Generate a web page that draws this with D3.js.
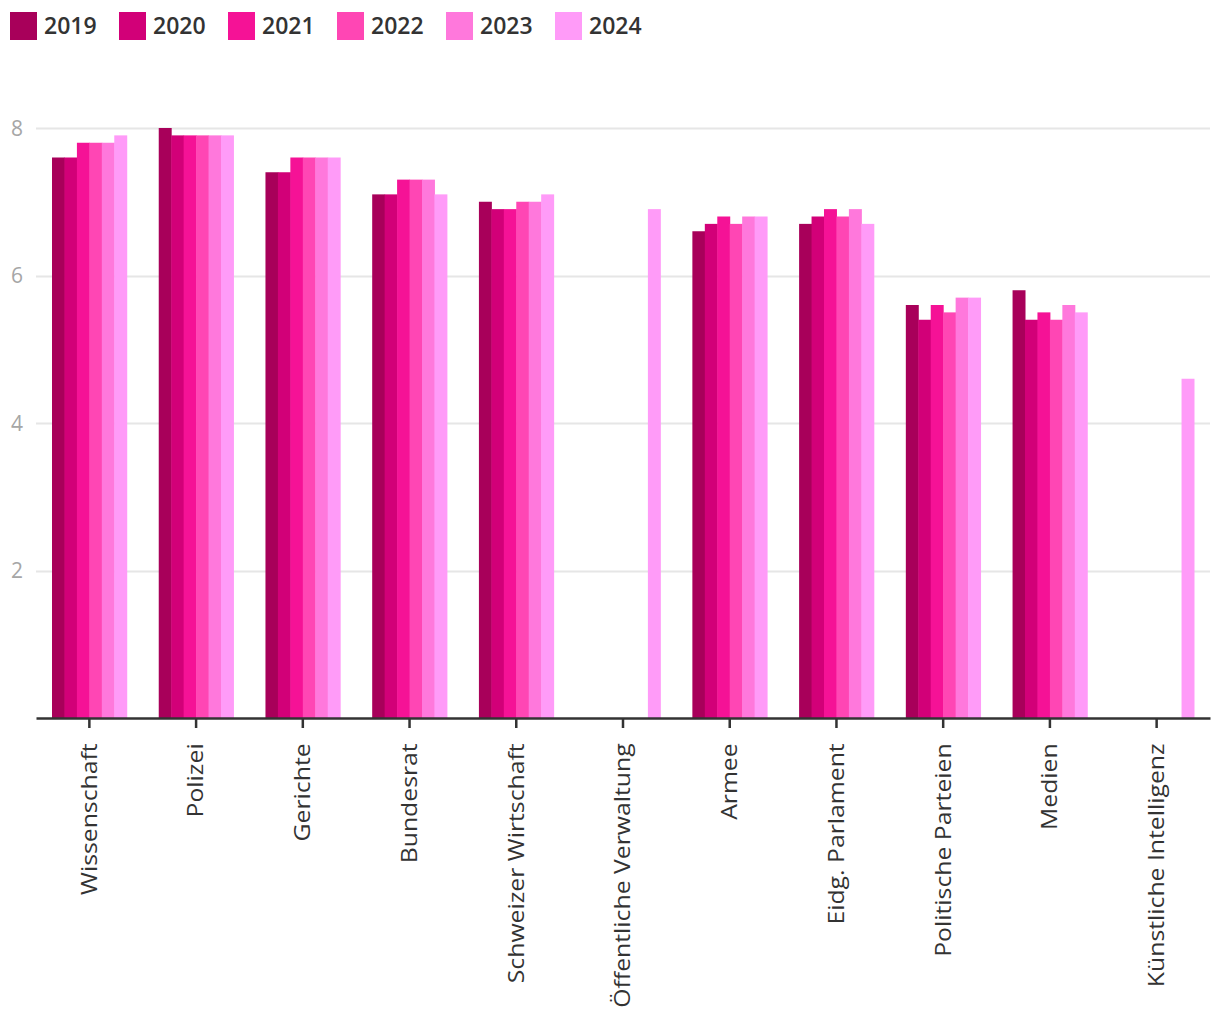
<!DOCTYPE html>
<html lang="de">
<head>
<meta charset="utf-8">
<title>Vertrauen</title>
<script src="https://d3js.org/d3.v7.min.js"></script>
<style>
  body { margin: 0; background: #fff; }
  text { font-family: "Open Sans", "Noto Sans", sans-serif; }
</style>
</head>
<body>
<script>
// categories and yearly values (0-10 scale)
var categories = ["Wissenschaft", "Polizei", "Gerichte", "Bundesrat", "Schweizer Wirtschaft",
  "Öffentliche Verwaltung", "Armee", "Eidg. Parlament", "Politische Parteien", "Medien",
  "Künstliche Intelligenz"];
var years = ["2019", "2020", "2021", "2022", "2023", "2024"];
var v2019 = [7.6, 8.0, 7.4, 7.1, 7.0, null, 6.6, 6.7, 5.6, 5.8, null];
var v2020 = [7.6, 7.9, 7.4, 7.1, 6.9, null, 6.7, 6.8, 5.4, 5.4, null];
var v2021 = [7.8, 7.9, 7.6, 7.3, 6.9, null, 6.8, 6.9, 5.6, 5.5, null];
var v2022 = [7.8, 7.9, 7.6, 7.3, 7.0, null, 6.7, 6.8, 5.5, 5.4, null];
var v2023 = [7.8, 7.9, 7.6, 7.3, 7.0, null, 6.8, 6.9, 5.7, 5.6, null];
var v2024 = [7.9, 7.9, 7.6, 7.1, 7.1, 6.9, 6.8, 6.7, 5.7, 5.5, 4.6];
var yTicks = [2, 4, 6, 8];
var colors = ["#a8005a", "#d20078", "#f51296", "#ff46b4", "#ff78dc", "#ff9bf8"];

var series = [v2019, v2020, v2021, v2022, v2023, v2024];

var width = 1220, height = 1020;
var margin = {left: 36, right: 10, top: 128, bottom: 302};

var svg = d3.select("body").append("svg")
    .attr("width", width)
    .attr("height", height);

var x = d3.scaleBand()
    .domain(categories)
    .range([margin.left, width - margin.right])
    .paddingInner(0.3)
    .paddingOuter(0.15);

var x1 = d3.scaleBand()
    .domain(years)
    .range([0, x.bandwidth()]);

var y = d3.scaleLinear()
    .domain([0, 8])
    .range([height - margin.bottom, margin.top]);

// gridlines
svg.append("g").selectAll("line")
    .data(yTicks)
    .enter().append("line")
    .attr("x1", margin.left)
    .attr("x2", width - margin.right)
    .attr("y1", function(d) { return Math.round(y(d)) + 0.5; })
    .attr("y2", function(d) { return Math.round(y(d)) + 0.5; })
    .attr("stroke", "#e6e6e6")
    .attr("stroke-width", 2);

// y labels
svg.append("g").selectAll("text")
    .data(yTicks)
    .enter().append("text")
    .attr("x", 17)
    .attr("y", function(d) { return y(d) + 7.5; })
    .attr("text-anchor", "middle")
    .attr("font-size", "21px")
    .attr("font-weight", 500)
    .attr("fill", "#a6a6a6")
    .text(function(d) { return d; });

// bars
var groups = svg.append("g").selectAll("g")
    .data(series)
    .enter().append("g")
    .attr("fill", function(d, i) { return colors[i]; });

groups.each(function(vals, si) {
  d3.select(this).selectAll("rect")
    .data(vals.map(function(v, ci) { return {c: categories[ci], v: v}; })
               .filter(function(d) { return d.v != null; }))
    .enter().append("rect")
    .attr("x", function(d) { return x(d.c) + x1(years[si]); })
    .attr("width", x1.bandwidth() + 0.5)
    .attr("y", function(d) { return y(d.v); })
    .attr("height", function(d) { return y(0) - y(d.v); });
});

// x axis
var xAxis = svg.append("g")
    .attr("transform", "translate(0," + y(0) + ")")
    .call(d3.axisBottom(x).tickSize(10).tickSizeOuter(0).tickPadding(12));

xAxis.select(".domain").attr("stroke", "#333").attr("stroke-width", 2.5);
xAxis.selectAll(".tick line").attr("stroke", "#333").attr("stroke-width", 2.5);
// labels are drawn a bit stretched along their length, like the original
xAxis.selectAll(".tick text")
    .attr("font-size", "21px")
    .attr("font-weight", 500)
    .attr("fill", "#333")
    .attr("font-family", "'Open Sans', sans-serif")
    .attr("transform", "rotate(-90) scale(1.18,1)")
    .attr("text-anchor", "end")
    .attr("x", -21.5)
    .attr("y", 0)
    .attr("dy", "0.35em");

// legend
var legend = svg.append("g").selectAll("g")
    .data(years)
    .enter().append("g")
    .attr("transform", function(d, i) { return "translate(" + (10 + i * 109) + ",12)"; });

legend.append("rect")
    .attr("width", 27)
    .attr("height", 28)
    .attr("fill", function(d, i) { return colors[i]; });

legend.append("text")
    .attr("x", 34)
    .attr("y", 22)
    .attr("font-size", "23px")
    .attr("font-weight", 600)
    .attr("fill", "#333")
    .text(function(d) { return d; });
</script>
</body>
</html>
